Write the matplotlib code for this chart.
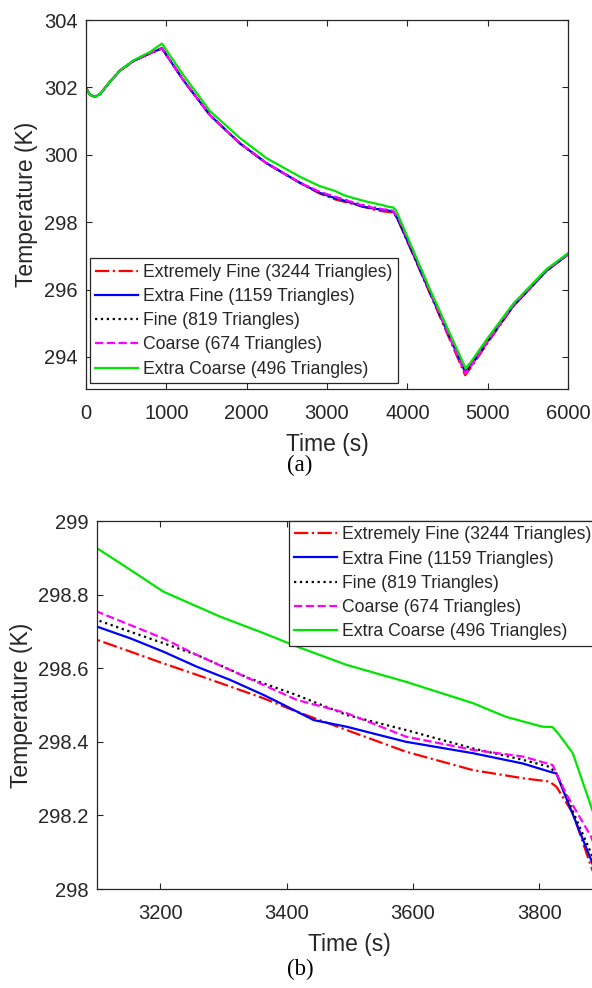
import numpy as np
import matplotlib
matplotlib.use("Agg")
import matplotlib.pyplot as plt
from matplotlib.ticker import FormatStrFormatter

plt.rcParams['font.family'] = ['Liberation Sans', 'DejaVu Sans']

# mesh study: temperature (K) against time (s)
labels = ["Extremely Fine (3244 Triangles)", "Extra Fine (1159 Triangles)",
          "Fine (819 Triangles)", "Coarse (674 Triangles)",
          "Extra Coarse (496 Triangles)"]

t_early = [0, 50, 112, 174, 299, 423, 588, 796, 945, 1210, 1542, 1915, 2247, 2662, 2900]
T_early_fine = [301.98, 301.78, 301.72, 301.80, 302.17, 302.50, 302.78, 303.01, 303.16,
                302.22, 301.18, 300.34, 299.75, 299.17, 298.88]
T_early_coarse = [301.98, 301.78, 301.72, 301.80, 302.17, 302.50, 302.80, 303.05, 303.30,
                  302.37, 301.30, 300.50, 299.90, 299.35, 299.08]

t_red = [3100, 3153, 3205, 3258, 3311, 3364, 3416, 3495, 3589, 3695, 3774, 3816, 3827, 3853, 3882,
         3900, 4279, 4720, 4800, 5000, 5315, 5730, 6000]
T_red = [298.677, 298.645, 298.613, 298.582, 298.550, 298.518, 298.482, 298.432, 298.373, 298.323,
         298.301, 298.292, 298.278, 298.206, 298.061, 297.98, 295.90, 293.46, 293.72, 294.42,
         295.50, 296.56, 297.05]

t_blue = [3100, 3153, 3205, 3258, 3311, 3364, 3390, 3443, 3495, 3589, 3695, 3774, 3816, 3827, 3882,
          3900, 4279, 4720, 4800, 5000, 5315, 5730, 6000]
T_blue = [298.713, 298.681, 298.645, 298.604, 298.568, 298.527, 298.505, 298.459, 298.441, 298.400,
          298.369, 298.341, 298.319, 298.314, 298.079, 297.99, 295.93, 293.55, 293.78, 294.47,
          295.50, 296.55, 297.04]

t_black = [3100, 3153, 3205, 3258, 3300, 3340, 3416, 3495, 3589, 3695, 3774, 3816, 3827, 3882,
           3900, 4279, 4720, 4800, 5000, 5315, 5730, 6000]
T_black = [298.731, 298.699, 298.668, 298.636, 298.604, 298.573, 298.527, 298.473, 298.432, 298.382,
           298.351, 298.332, 298.314, 298.097, 298.01, 295.94, 293.53, 293.77, 294.46,
           295.51, 296.56, 297.05]

t_mag = [3100, 3153, 3205, 3258, 3311, 3364, 3416, 3495, 3589, 3695, 3774, 3821, 3842, 3882,
         3900, 4279, 4720, 4800, 5000, 5315, 5730, 6000]
T_mag = [298.754, 298.717, 298.681, 298.636, 298.595, 298.554, 298.514, 298.478, 298.414, 298.378,
         298.360, 298.337, 298.260, 298.142, 298.06, 295.97, 293.51, 293.76, 294.46,
         295.52, 296.57, 297.05]

t_green = [3100, 3153, 3205, 3295, 3364, 3416, 3495, 3589, 3695, 3747, 3805, 3821, 3832, 3853, 3882,
           3900, 4279, 4726, 4800, 5000, 5315, 5730, 6000]
T_green = [298.926, 298.867, 298.808, 298.740, 298.695, 298.659, 298.609, 298.563, 298.505, 298.468,
           298.441, 298.440, 298.418, 298.369, 298.224, 298.13, 296.02, 293.66, 293.88, 294.56,
           295.57, 296.60, 297.08]

series = [
    (t_early + t_red, T_early_fine[:-1] + [298.86] + T_red, (1, 0, 0), '-.'),
    (t_early + t_blue, T_early_fine + T_blue, (0, 0, 1), '-'),
    (t_early + t_black, T_early_fine[:-1] + [298.90] + T_black, 'k', ':'),
    (t_early + t_mag, T_early_fine[:-1] + [298.91] + T_mag, (1, 0, 1), '--'),
    (t_early + t_green, T_early_coarse + T_green, (0, 0.9, 0), '-'),
]

fig = plt.figure(figsize=(5.92, 9.88), dpi=100)
ax1 = fig.add_axes([86 / 592, 1 - 389 / 988, 482 / 592, 369 / 988])
ax2 = fig.add_axes([97 / 592, 1 - 889 / 988, 505.5 / 592, 368 / 988])

gray = '#262626'
for ax in (ax1, ax2):
    for (t, T, c, ls), lab in zip(series, labels):
        ax.plot(t, T, color=c, linestyle=ls, linewidth=1.6, label=lab)
    for s in ax.spines.values():
        s.set_color(gray)
        s.set_linewidth(0.9)
    ax.tick_params(direction='in', top=True, right=True, length=4, width=0.8,
                   colors=gray, labelsize=14.5, pad=6)
    ax.tick_params(axis='x', pad=10.5)
    ax.set_xlabel('Time (s)', fontsize=16.5, color=gray, labelpad=7.5)
    ax.set_ylabel('Temperature (K)', fontsize=16.5, color=gray, labelpad=4)

ax1.set_xlim(0, 6000)
ax1.set_ylim(293.05, 304)
ax1.set_xticks(np.arange(0, 6001, 1000))
ax1.set_yticks(np.arange(294, 304.1, 2))

ax2.set_xlim(3100, 3900)
ax2.set_ylim(298, 299)
ax2.set_xticks([3200, 3400, 3600, 3800])
ax2.set_yticks(np.arange(298, 299.01, 0.2))
ax2.yaxis.set_major_formatter(FormatStrFormatter('%g'))

leg_kw = dict(fontsize=12.7, handlelength=2.44, handletextpad=0.27, labelspacing=0.41,
              borderpad=0.3, borderaxespad=0, fancybox=False, framealpha=1,
              edgecolor=gray)
leg1 = ax1.legend(loc='lower left', bbox_to_anchor=(0.0083, 0.0163), **leg_kw)
leg2 = ax2.legend(loc='upper left', bbox_to_anchor=(0.38, 1.0), **leg_kw)
for leg in (leg1, leg2):
    leg.get_frame().set_linewidth(0.9)
    for txt in leg.get_texts():
        txt.set_color(gray)

fig.text(300 / 592, 1 - 465 / 988, '(a)', ha='center', va='center', fontsize=16.5,
         family='Liberation Serif')
fig.text(300 / 592, 1 - 969 / 988, '(b)', ha='center', va='center', fontsize=16.5,
         family='Liberation Serif')

fig.savefig('out.png', dpi=100)
